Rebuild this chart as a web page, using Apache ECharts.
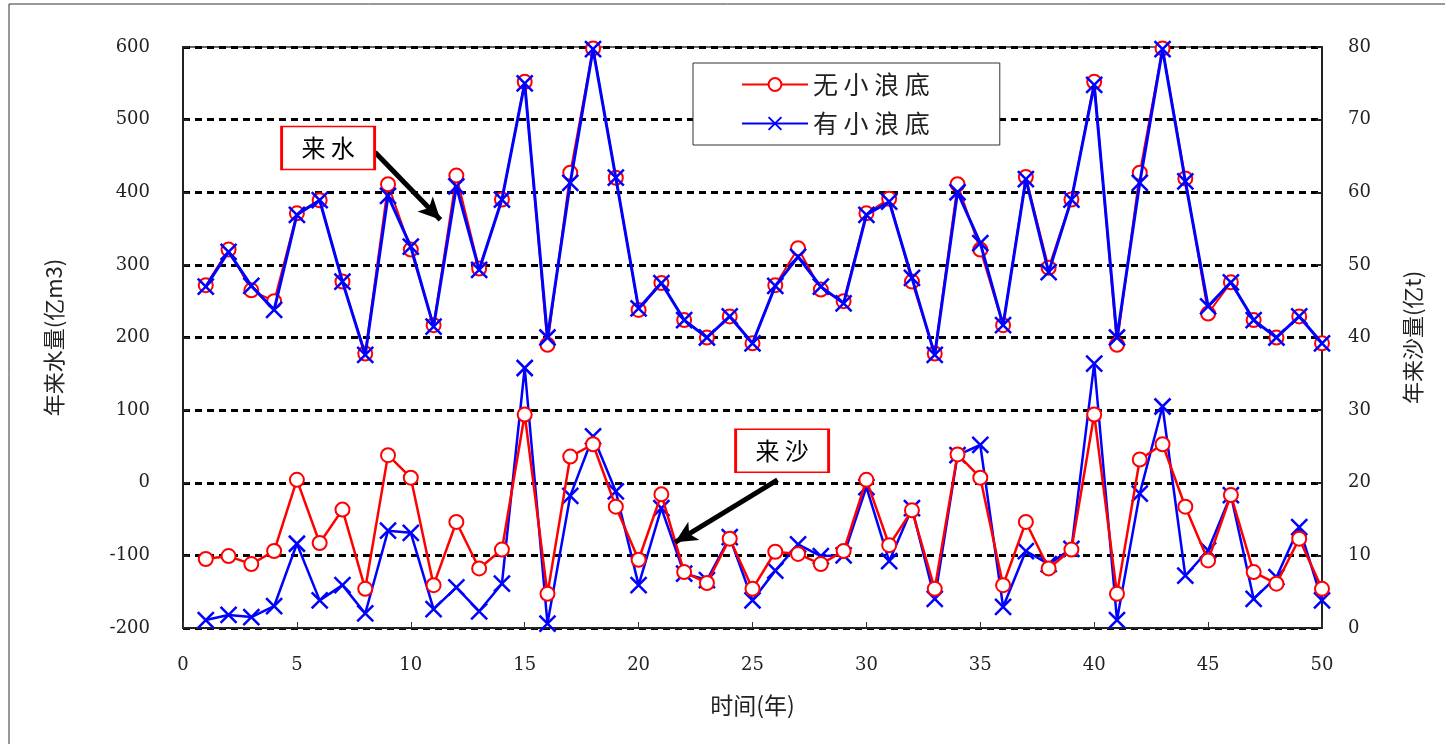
<!DOCTYPE html>
<html>
<head>
<meta charset="utf-8">
<script src="https://cdn.jsdelivr.net/npm/echarts@6/dist/echarts.min.js"></script>
<style>
html,body{margin:0;padding:0;background:#fff;}
#chart{width:1445px;height:744px;}
</style>
</head>
<body>
<div id="chart"></div>
<script>
// ---- data ----
const years = [1,2,3,4,5,6,7,8,9,10,11,12,13,14,15,16,17,18,19,20,21,22,23,24,25,26,27,28,29,30,31,32,33,34,35,36,37,38,39,40,41,42,43,44,45,46,47,48,49,50];
const waterNo = [272,321,265,250,371,389,277,178,411,321,217,423,295,390,552,190,427,598,420,238,275,224,200,229,192,272,323,266,250,371,391,277,178,411,321,217,421,296,390,552,190,427,598,419,233,276,224,200,229,192];
const waterYes = [270,318,271,238,369,389,277,176,395,325,215,408,293,390,550,200,413,597,420,240,275,224,200,229,192,271,311,270,247,369,387,282,176,400,330,217,418,290,390,548,200,413,597,415,243,276,224,200,229,192];
const sedNo = [9.5,9.9,8.8,10.6,20.4,11.7,16.3,5.4,23.8,20.7,5.9,14.6,8.2,10.8,29.4,4.7,23.6,25.3,16.7,9.4,18.4,7.7,6.2,12.3,5.4,10.5,10.2,8.8,10.6,20.4,11.4,16.2,5.4,23.9,20.7,5.9,14.6,8.2,10.8,29.4,4.7,23.2,25.3,16.7,9.3,18.3,7.7,6.1,12.3,5.4];
const sedYes = [1.1,1.8,1.5,3.0,11.6,3.8,5.9,2.0,13.4,13.1,2.6,5.6,2.3,6.1,35.8,0.6,18.2,26.4,18.8,5.9,16.5,7.5,6.6,12.5,3.8,7.9,11.5,9.9,10.0,19.4,9.2,16.5,4.0,23.8,25.2,2.9,10.6,8.8,10.9,36.4,1.1,18.5,30.5,7.2,10.7,18.3,4.0,7.0,13.9,3.8];
const seriesNames = ['无小浪底','有小浪底'];
const xName = '时间(年)';
const leftName = '年来水量(亿m3)';
const rightName = '年来沙量(亿t)';
// annotation anchors (data coords on left axis)
const noteWater = {text:'来水', at:[6.37,461], arrowFrom:[8.43,455], arrowTo:[11.3,362]};
const noteSed = {text:'来沙', at:[26.3,44], arrowFrom:[26.1,4], arrowTo:[21.6,-82]};

const pairs = (vals) => years.map((y,i)=>[y, vals[i]]);
const spaced = (s) => s.split('').join(' ');
const crossPath = 'path://M0,0L10,10M10,0L0,10';
const numFont = 'DejaVu Serif';
const cjkFont = 'Noto Sans CJK SC';

function noteMark(n){
  return {
    coord: n.at, symbol:'rect', symbolSize:[93,43],
    itemStyle:{color:'#fff', borderColor:'#ff0000', borderWidth:2},
    label:{show:true, position:'inside', formatter: spaced(n.text), color:'#000', fontSize:24, fontFamily:cjkFont}
  };
}

const chart = echarts.init(document.getElementById('chart'));
chart.setOption({
  animation:false,
  backgroundColor:'#fff',
  grid:{left:183, right:123, top:47, bottom:116, show:true, borderColor:'#333', borderWidth:1.5, backgroundColor:'transparent'},
  graphic:[{type:'rect', shape:{x:9,y:4,width:1440,height:745}, style:{fill:'none', stroke:'#333', lineWidth:1}, silent:true}],
  legend:{
    left:693, top:63, orient:'vertical',
    data:seriesNames,
    formatter:(n)=>spaced(n),
    backgroundColor:'#fff', borderColor:'#333', borderWidth:1,
    padding:[9,70,9,48], itemGap:14, itemWidth:66, itemHeight:16,
    textStyle:{fontSize:25, fontFamily:cjkFont, color:'#222'}
  },
  xAxis:{
    type:'value', min:0, max:50, interval:5,
    name:xName, nameLocation:'middle', nameGap:66,
    nameTextStyle:{fontSize:23, fontFamily:cjkFont, color:'#222'},
    axisLine:{onZero:false, lineStyle:{color:'#222', width:2}},
    axisTick:{inside:true, length:6, lineStyle:{color:'#333'}},
    axisLabel:{fontSize:18, fontFamily:numFont, color:'#222', margin:28},
    splitLine:{show:false}
  },
  yAxis:[{
    type:'value', min:-200, max:600, interval:100,
    name:leftName, nameLocation:'middle', nameGap:118, nameRotate:90,
    nameTextStyle:{fontSize:22, fontFamily:cjkFont, color:'#222'},
    axisLine:{show:true, onZero:false, lineStyle:{color:'#222', width:2}},
    axisTick:{show:true, inside:true, length:6, lineStyle:{color:'#222', width:2}},
    axisLabel:{fontSize:18, fontFamily:numFont, color:'#222', margin:33},
    splitLine:{show:true, lineStyle:{color:'#000', width:3, type:[7,5]}}
  },{
    type:'value', min:0, max:80, interval:10, position:'right',
    name:rightName, nameLocation:'middle', nameGap:80, nameRotate:90,
    nameTextStyle:{fontSize:22, fontFamily:cjkFont, color:'#222'},
    axisLine:{show:true, onZero:false, lineStyle:{color:'#222', width:2}},
    axisTick:{show:true, inside:true, length:6, lineStyle:{color:'#222', width:2}},
    axisLabel:{fontSize:18, fontFamily:numFont, color:'#222', margin:26},
    splitLine:{show:false}
  }],
  series:[
    {
      name:seriesNames[0], type:'line', yAxisIndex:0, data:pairs(waterNo),
      symbol:'circle', symbolSize:14, showSymbol:true,
      lineStyle:{color:'#ff0000', width:2},
      itemStyle:{color:'#fff', borderColor:'#ff0000', borderWidth:2},
      z:3,
      markPoint:{silent:true, data:[noteMark(noteWater), noteMark(noteSed)]},
      markLine:{
        silent:true, symbol:['none','arrow'], symbolSize:[16,22],
        label:{show:false},
        lineStyle:{color:'#000', width:5, type:'solid'},
        emphasis:{disabled:true},
        data:[
          [{coord:noteWater.arrowFrom},{coord:noteWater.arrowTo}],
          [{coord:noteSed.arrowFrom},{coord:noteSed.arrowTo}]
        ]
      }
    },
    {
      name:seriesNames[1], type:'line', yAxisIndex:0, data:pairs(waterYes),
      symbol:crossPath, symbolSize:16, showSymbol:true,
      lineStyle:{color:'#0000ff', width:3},
      itemStyle:{color:'#0000ff', borderColor:'#0000ff', borderWidth:2.5},
      z:4
    },
    {
      name:seriesNames[0], type:'line', yAxisIndex:1, data:pairs(sedNo),
      symbol:'circle', symbolSize:14, showSymbol:true,
      lineStyle:{color:'#ff0000', width:2.5},
      itemStyle:{color:'#fff', borderColor:'#ff0000', borderWidth:2},
      z:4
    },
    {
      name:seriesNames[1], type:'line', yAxisIndex:1, data:pairs(sedYes),
      symbol:crossPath, symbolSize:16, showSymbol:true,
      lineStyle:{color:'#0000ff', width:2.5},
      itemStyle:{color:'#0000ff', borderColor:'#0000ff', borderWidth:2.5},
      z:3
    }
  ]
});
</script>
</body>
</html>
